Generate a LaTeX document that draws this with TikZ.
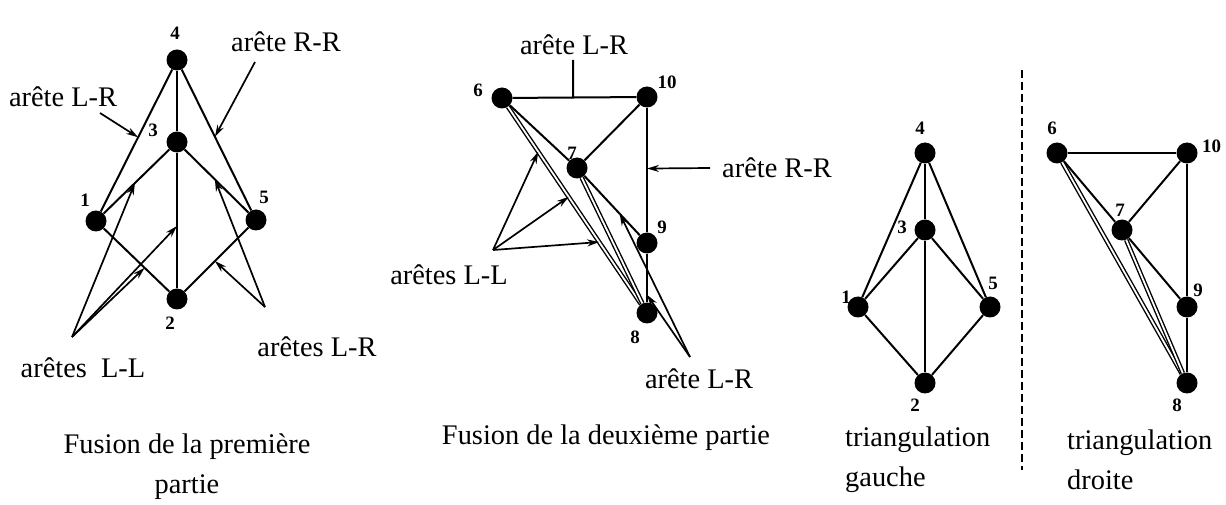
\documentclass[tikz,border=0pt]{standalone}
\usepackage{fontspec}
\setmainfont{Liberation Serif}
\usetikzlibrary{arrows.meta,calc}

\begin{document}
\begin{tikzpicture}[x=1bp, y=-1bp,
  vtx/.style={circle, fill=black, inner sep=0pt, minimum size=21bp},
  edge/.style={line width=2bp},
  dbl/.style={line width=1.4bp, double, double distance=1.8bp},
  ptr/.style={line width=1.7bp, -{Stealth[length=12bp, width=7bp]}},
  num/.style={inner sep=0pt, font=\fontsize{19}{19}\selectfont\bfseries},
  lbl/.style={inner sep=0pt, font=\fontsize{28.5}{33}\selectfont},
  ttl/.style={inner sep=0pt, font=\fontsize{28.5}{40}\selectfont}]
  \useasboundingbox (0,0) rectangle (1226,505);

  % Fusion de la premiere partie
  \node[vtx] (a4) at (177,60) {};
  \node[vtx] (a3) at (177,142) {};
  \node[vtx] (a1) at (96,221) {};
  \node[vtx] (a5) at (256,220) {};
  \node[vtx] (a2) at (177,299) {};
  \node[num] (a4n) at (175,33) {4};
  \node[num] (a3n) at (153,130) {3};
  \node[num] (a1n) at (85,200) {1};
  \node[num] (a5n) at (264,197) {5};
  \node[num] (a2n) at (170,323) {2};
  \draw[edge] (a4) -- (a1);
  \draw[edge] (a4) -- (a5);
  \draw[edge] (a4) -- (a3);
  \draw[edge] (a3) -- (a2);
  \draw[edge] (a3) -- (a1);
  \draw[edge] (a3) -- (a5);
  \draw[edge] (a1) -- (a2);
  \draw[edge] (a5) -- (a2);

  \node[lbl] (aLR) at (63,97) {arête L-R};
  \node[lbl] (aRR) at (286,42) {arête R-R};
  \node[lbl] (aLL) at (83,368) {arêtes~~L-L};
  \node[lbl] (aLRb) at (317,347) {arêtes L-R};
  \coordinate (aLRs) at (100,113);
  \coordinate (aRRs) at (255,62);
  \coordinate (aLLs) at (72,337);
  \coordinate (aLRbs) at (265,307);
  \draw[ptr] (aLRs) -- ($(a4)!0.48!(a1)$);
  \draw[ptr] (aRRs) -- ($(a4)!0.48!(a5)$);
  \draw[ptr] (aLLs) -- ($(a1)!0.48!(a3)$);
  \draw[ptr] (aLLs) -- ($(a3)!0.535!(a2)$);
  \draw[ptr] (aLLs) -- ($(a1)!0.6!(a2)$);
  \draw[ptr] (aLRbs) -- ($(a3)!0.48!(a5)$);
  \draw[ptr] (aLRbs) -- ($(a5)!0.52!(a2)$);

  \node[ttl, align=center] (aT) at (187,467) {Fusion de la première\\partie};

  % Fusion de la deuxieme partie
  \node[vtx] (b6) at (502,98) {};
  \node[vtx] (b10) at (647,97) {};
  \node[vtx] (b7) at (577,168) {};
  \node[vtx] (b9) at (647,243) {};
  \node[vtx] (b8) at (647,313) {};
  \node[num] (b6n) at (478,90) {6};
  \node[num] (b10n) at (667,82) {10};
  \node[num] (b7n) at (572,153) {7};
  \node[num] (b9n) at (662,227) {9};
  \node[num] (b8n) at (635,337) {8};
  \draw[dbl] (b6) -- (b8);
  \draw[dbl] (b7) -- (b8);
  \draw[edge] (b6) -- (b10);
  \draw[edge] (b10) -- (b7);
  \draw[edge] (b10) -- (b9);
  \draw[edge] (b9) -- (b8);
  \draw[edge] (b6) -- (b7);
  \draw[edge] (b7) -- (b9);

  \node[lbl] (bLR) at (574,45) {arête L-R};
  \node[lbl] (bRR) at (777,168) {arête R-R};
  \node[lbl] (bLL) at (449,275) {arêtes L-L};
  \node[lbl] (bLRb) at (699,379) {arête L-R};
  \coordinate (bLRs) at (573,60);
  \coordinate (bRRs) at (710,168);
  \coordinate (bLLs) at (493,250);
  \coordinate (bLRbs) at (690,357);
  \draw[edge] (bLRs) -- ($(b6)!0.49!(b10)$);
  \draw[ptr] (bRRs) -- ($(b10)!0.49!(b9)$);
  \draw[ptr] (bLLs) -- ($(b6)!0.25!(b8)$);
  \draw[ptr] (bLLs) -- ($(b6)!0.46!(b8)$);
  \draw[ptr] (bLLs) -- ($(b6)!0.67!(b8)$);
  \draw[ptr] (bLRbs) -- ($(b7)!0.61!(b9)$);
  \draw[ptr] (bLRbs) -- ($(b9)!0.74!(b8)$);

  \node[ttl] (bT) at (606,438) {Fusion de la deuxième partie};

  % triangulation gauche
  \node[vtx] (c4) at (925,153) {};
  \node[vtx] (c3) at (925,230) {};
  \node[vtx] (c1) at (858,307) {};
  \node[vtx] (c5) at (990,307) {};
  \node[vtx] (c2) at (925,383) {};
  \node[num] (c4n) at (920,128) {4};
  \node[num] (c3n) at (902,227) {3};
  \node[num] (c1n) at (846,297) {1};
  \node[num] (c5n) at (993,283) {5};
  \node[num] (c2n) at (915,405) {2};
  \draw[edge] (c4) -- (c1);
  \draw[edge] (c4) -- (c5);
  \draw[edge] (c4) -- (c3);
  \draw[edge] (c3) -- (c2);
  \draw[edge] (c3) -- (c1);
  \draw[edge] (c3) -- (c5);
  \draw[edge] (c1) -- (c2);
  \draw[edge] (c5) -- (c2);
  \node[ttl, align=left, anchor=west] (cT) at (845,460) {triangulation\\gauche};

  % separation
  \coordinate (sepA) at (1022,70);
  \coordinate (sepB) at (1022,470);
  \draw[line width=2bp, dash pattern=on 8bp off 4bp] (sepA) -- (sepB);

  % triangulation droite
  \node[vtx] (d6) at (1057,153) {};
  \node[vtx] (d10) at (1187,153) {};
  \node[vtx] (d7) at (1122,230) {};
  \node[vtx] (d9) at (1187,307) {};
  \node[vtx] (d8) at (1187,383) {};
  \node[num] (d6n) at (1052,128) {6};
  \node[num, anchor=west] (d10n) at (1202,146) {10};
  \node[num] (d7n) at (1120,210) {7};
  \node[num] (d9n) at (1198,290) {9};
  \node[num] (d8n) at (1177,405) {8};
  \draw[dbl] (d6) -- (d8);
  \draw[dbl] (d7) -- (d8);
  \draw[edge] (d6) -- (d10);
  \draw[edge] (d10) -- (d7);
  \draw[edge] (d10) -- (d9);
  \draw[edge] (d9) -- (d8);
  \draw[edge] (d6) -- (d7);
  \draw[edge] (d7) -- (d9);
  \node[ttl, align=left, anchor=west] (dT) at (1067,460) {triangulation\\droite};
\end{tikzpicture}
\end{document}
